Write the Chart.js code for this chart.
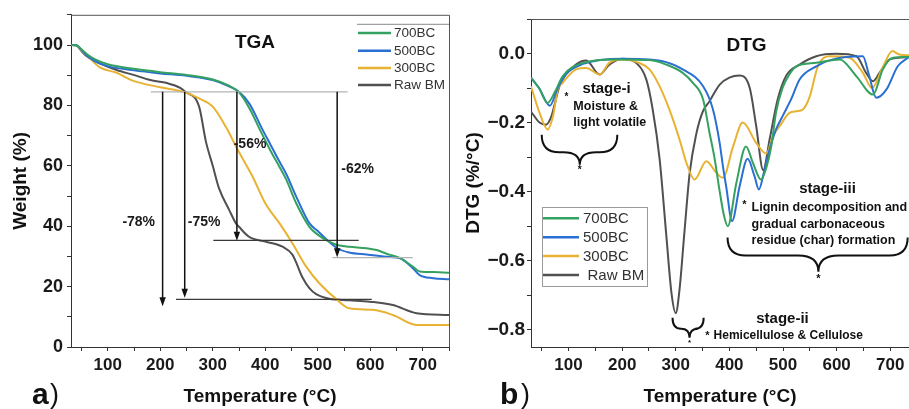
<!DOCTYPE html>
<html><head><meta charset="utf-8">
<script src="https://cdn.jsdelivr.net/npm/chart.js@4.4.1/dist/chart.umd.min.js"></script>
<style>
html,body{margin:0;padding:0;background:#fff;}
#wrap{position:relative;width:909px;height:409px;overflow:hidden;background:#fff;}
#c1{position:absolute;left:0;top:0;}
#c2{position:absolute;left:455px;top:0;}
</style></head><body>
<div id="wrap">
<canvas id="c1" width="455" height="409"></canvas>
<canvas id="c2" width="454" height="409"></canvas>
</div>
<script>
// ---------------- DATA ----------------
const seriesNames = ['700BC', '500BC', '300BC', 'Raw BM'];

// TGA (weight %) vs temperature (°C)
const tgaT700 = [30, 40, 50, 60, 75, 100, 150, 200, 250, 300, 330, 350, 370, 390, 410, 427, 440, 459, 484, 500, 518, 537, 560, 593, 612, 631, 657, 681, 694, 720, 750];
const tgaW700 = [100, 99.9, 98.6, 97.0, 95.3, 93.6, 92.1, 91.0, 90.1, 88.6, 86.6, 84.3, 79.0, 71.9, 65.0, 59.7, 55.4, 47.6, 39.8, 37.2, 35.2, 33.8, 33.2, 32.7, 32.1, 30.9, 29.4, 26.6, 25.0, 24.8, 24.6];
const tgaT500 = [30, 40, 50, 60, 75, 100, 150, 200, 250, 300, 330, 350, 370, 395, 410, 427, 440, 459, 484, 500, 518, 537, 560, 593, 631, 657, 681, 694, 720, 750];
const tgaW500 = [100, 99.9, 98.3, 96.5, 94.7, 93.0, 91.6, 90.6, 89.8, 88.4, 86.4, 84.5, 80.5, 71.9, 67.0, 61.4, 57.3, 49.8, 41.0, 38.4, 35.4, 32.7, 31.3, 30.6, 29.9, 29.4, 26.1, 23.8, 22.8, 22.4];
const tgaT300 = [30, 40, 50, 60, 85, 117, 146, 200, 247, 274, 300, 325, 346, 376, 400, 427, 452, 478, 503, 537, 560, 605, 643, 688, 750];
const tgaW300 = [100, 99.9, 98.2, 96.6, 92.6, 90.8, 88.3, 86.0, 84.3, 82.3, 79.6, 72.9, 65.8, 56.4, 47.6, 41.0, 34.3, 26.6, 21.1, 15.6, 12.8, 12.3, 10.6, 7.3, 7.3];
const tgaTRaw = [30, 40, 50, 60, 85, 117, 149, 181, 213, 238, 247, 274, 287, 300, 312, 331, 344, 350, 369, 400, 433, 452, 460, 471, 484, 497, 522, 560, 599, 643, 688, 750];
const tgaWRaw = [100, 99.9, 98.0, 96.3, 93.9, 91.7, 90.1, 88.4, 87.4, 85.8, 84.6, 79.6, 68.0, 60.0, 52.5, 45.5, 41.0, 39.8, 36.5, 34.9, 33.2, 30.5, 27.5, 23.0, 19.5, 17.5, 16.0, 15.5, 15.0, 13.9, 11.2, 10.6];

// DTG (%/°C) vs temperature (°C)
const dtgT700 = [30, 45, 61, 75, 89, 127, 189, 251, 282, 313, 332, 351, 363, 372, 382, 390, 397, 413, 431, 444, 459, 469, 478, 487, 499, 512, 525, 562, 606, 637, 668, 686, 705, 735];
const dtgV700 = [-0.07, -0.10, -0.143, -0.11, -0.066, -0.027, -0.017, -0.019, -0.032, -0.056, -0.085, -0.133, -0.23, -0.30, -0.40, -0.47, -0.50, -0.375, -0.269, -0.317, -0.365, -0.33, -0.27, -0.17, -0.10, -0.06, -0.037, -0.027, -0.017, -0.066, -0.119, -0.046, -0.012, -0.01];
const dtgT500 = [30, 45, 65, 80, 95, 127, 200, 251, 282, 313, 351, 369, 382, 388, 394, 405, 419, 434, 447, 455, 465, 475, 487, 499, 515, 531, 562, 593, 649, 660, 674, 693, 714, 735];
const dtgV500 = [-0.07, -0.10, -0.151, -0.10, -0.06, -0.03, -0.015, -0.017, -0.025, -0.046, -0.095, -0.160, -0.26, -0.327, -0.385, -0.485, -0.385, -0.305, -0.356, -0.394, -0.34, -0.278, -0.22, -0.182, -0.133, -0.075, -0.037, -0.017, -0.008, -0.06, -0.128, -0.104, -0.037, -0.01];
const dtgT300 = [30, 46, 61, 71, 80, 89, 114, 133, 158, 176, 201, 232, 251, 270, 288, 307, 320, 335, 357, 376, 388, 407, 425, 450, 469, 481, 494, 512, 525, 537, 550, 565, 587, 624, 649, 666, 686, 704, 717, 735];
const dtgV300 = [-0.095, -0.172, -0.22, -0.182, -0.104, -0.085, -0.046, -0.042, -0.061, -0.027, -0.017, -0.027, -0.046, -0.095, -0.162, -0.249, -0.317, -0.365, -0.312, -0.346, -0.36, -0.269, -0.2, -0.259, -0.29, -0.24, -0.21, -0.172, -0.167, -0.162, -0.124, -0.037, -0.008, -0.012, -0.056, -0.10, -0.04, 0.007, -0.003, -0.005];
const dtgTRaw = [30, 46, 58, 68, 74, 83, 114, 133, 158, 176, 201, 226, 245, 257, 270, 282, 292, 300, 307, 316, 326, 338, 350, 363, 382, 400, 419, 438, 450, 463, 475, 490, 506, 531, 562, 599, 637, 655, 668, 680, 699, 735];
const dtgVRaw = [-0.168, -0.20, -0.206, -0.182, -0.148, -0.095, -0.032, -0.02, -0.061, -0.032, -0.015, -0.027, -0.075, -0.162, -0.307, -0.52, -0.694, -0.752, -0.684, -0.52, -0.346, -0.235, -0.17, -0.138, -0.09, -0.07, -0.064, -0.10, -0.21, -0.338, -0.249, -0.133, -0.064, -0.032, -0.008, -0.001, -0.008, -0.056, -0.08, -0.056, -0.017, -0.01];

// TGA axis ticks
const tgaXTickLabels = [100, 200, 300, 400, 500, 600, 700];
const tgaYTickLabels = [0, 20, 40, 60, 80, 100];
const dtgXTickLabels = [100, 200, 300, 400, 500, 600, 700];
const dtgYTickLabels = [-0.8, -0.6, -0.4, -0.2, 0.0];

// TGA annotations (data units): mass-loss reference lines, arrows, labels
const tgaRefW  = [84.5, 35.3, 29.6, 15.8];
const tgaRefT1 = [182, 301, 528, 230];
const tgaRefT2 = [557, 578, 681, 603];
const tgaArrowT  = [204.5, 246.6, 346, 537];
const tgaArrowW1 = [84.5, 84.5, 84.5, 84.5];
const tgaArrowW2 = [13.5, 16.3, 35.2, 29.7];
const tgaLossLabels = ['-78%', '-75%', '-56%', '-62%'];
const tgaLossT = [159, 283.5, 371, 576];
const tgaLossW = [41.5, 41.5, 67.2, 58.8];

// ---------------- STYLE ----------------
const FONT = "'Liberation Sans', Arial, Helvetica, sans-serif";
const colors = ['#35a160', '#2a6fd2', '#e8b232', '#505050'];
const refColors = ['#b3b3b3', '#3a3a3a', '#b3b3b3', '#3a3a3a'];

function pts(T, V) { return T.map((t, i) => ({x: t, y: V[i]})); }

function makeDatasets(list) {
  return list.map((d, i) => ({
    label: seriesNames[i],
    data: pts(d[0], d[1]),
    borderColor: colors[i],
    backgroundColor: colors[i],
    borderWidth: 2,
    pointRadius: 0,
    fill: false,
    cubicInterpolationMode: 'monotone',
    order: i
  }));
}

function axisCommon() {
  return {
    grid: {display: true, drawOnChartArea: false, drawTicks: true, tickLength: 4, tickColor: '#333', tickWidth: 1},
    border: {display: true, color: '#333', width: 1}
  };
}

function text(ctx, s, x, y, font, align, color, baseline) {
  ctx.save();
  ctx.font = font;
  ctx.textAlign = align || 'center';
  ctx.textBaseline = baseline || 'middle';
  ctx.fillStyle = color || '#111';
  ctx.fillText(s, x, y);
  ctx.restore();
}

function brace(ctx, x1, x2, xc, yTop, yMid, yCusp) {
  const r1 = Math.min(yMid - yTop, (xc - x1) / 2);
  const r2 = Math.min(yCusp - yMid + 4, (xc - x1) / 2);
  ctx.save();
  ctx.strokeStyle = '#111';
  ctx.lineWidth = 2;
  ctx.beginPath();
  ctx.moveTo(x1, yTop);
  ctx.quadraticCurveTo(x1, yMid, x1 + r1, yMid);
  ctx.lineTo(xc - r2, yMid);
  ctx.quadraticCurveTo(xc, yMid, xc, yCusp);
  ctx.quadraticCurveTo(xc, yMid, xc + r2, yMid);
  ctx.lineTo(x2 - r1, yMid);
  ctx.quadraticCurveTo(x2, yMid, x2, yTop);
  ctx.stroke();
  ctx.restore();
}

// ---------------- TGA PLUGIN ----------------
const tgaPlugin = {
  id: 'tgaDecor',
  afterDatasetsDraw(chart) {
    const {ctx, chartArea: a, scales: {x, y}} = chart;
    // frame top & right
    ctx.save();
    ctx.strokeStyle = '#555';
    ctx.lineWidth = 1;
    ctx.beginPath();
    ctx.moveTo(a.left, a.top + 0.5); ctx.lineTo(a.right + 0.5, a.top + 0.5); ctx.lineTo(a.right + 0.5, a.bottom);
    ctx.stroke();
    // reference lines
    tgaRefW.forEach((w, i) => {
      ctx.strokeStyle = refColors[i];
      ctx.lineWidth = 1.3;
      ctx.beginPath();
      const py = y.getPixelForValue(w);
      ctx.moveTo(x.getPixelForValue(tgaRefT1[i]), py);
      ctx.lineTo(x.getPixelForValue(tgaRefT2[i]), py);
      ctx.stroke();
    });
    // arrows
    tgaArrowT.forEach((t, i) => {
      const px = x.getPixelForValue(t);
      const y1 = y.getPixelForValue(tgaArrowW1[i]);
      const y2 = y.getPixelForValue(tgaArrowW2[i]);
      ctx.strokeStyle = '#111';
      ctx.fillStyle = '#111';
      ctx.lineWidth = 1.5;
      ctx.beginPath();
      ctx.moveTo(px, y1); ctx.lineTo(px, y2 - 6); ctx.stroke();
      ctx.beginPath();
      ctx.moveTo(px, y2); ctx.lineTo(px - 3.2, y2 - 9); ctx.lineTo(px + 3.2, y2 - 9); ctx.closePath(); ctx.fill();
    });
    ctx.restore();
    // loss labels
    tgaLossLabels.forEach((s, i) => {
      text(ctx, s, x.getPixelForValue(tgaLossT[i]), y.getPixelForValue(tgaLossW[i]), 'bold 14px ' + FONT, 'center', '#1a1a1a');
    });
    // title
    text(ctx, 'TGA', a.left + 184, a.top + 28, 'bold 19px ' + FONT, 'center', '#111');
    // legend
    ctx.save();
    ctx.strokeStyle = '#8a8a8a';
    ctx.lineWidth = 1;
    ctx.beginPath();
    ctx.moveTo(a.right - 92, a.top + 9.5); ctx.lineTo(a.right, a.top + 9.5); ctx.stroke();
    const ly = [18.3, 36, 53.3, 70.3];
    chart.data.datasets.forEach((ds, i) => {
      ctx.strokeStyle = ds.borderColor;
      ctx.lineWidth = 2.5;
      ctx.beginPath();
      ctx.moveTo(a.right - 91, a.top + ly[i]); ctx.lineTo(a.right - 58, a.top + ly[i]); ctx.stroke();
      text(ctx, ds.label, a.right - 55, a.top + ly[i] + 0.5, '13.5px ' + FONT, 'left', '#333');
    });
    ctx.restore();
    // panel label
    text(ctx, 'a', 32, 404, 'bold 30px ' + FONT, 'left', '#111', 'alphabetic');
    text(ctx, ')', 50, 403, '27px ' + FONT, 'left', '#111', 'alphabetic');
  }
};

// ---------------- DTG PLUGIN ----------------
const dtgTextItems = [
  {s: 'DTG', t: 432, v: 0.023, font: 'bold 19px ', align: 'center'},
  {s: 'stage-i', t: 171, v: -0.101, font: 'bold 15px ', align: 'center'},
  {s: '*', t: 96, v: -0.128, font: 'bold 10px ', align: 'center'},
  {s: 'Moisture &', t: 109, v: -0.153, font: 'bold 12.5px ', align: 'left'},
  {s: 'light volatile', t: 109, v: -0.200, font: 'bold 12.5px ', align: 'left'},
  {s: '*', t: 121, v: -0.338, font: 'bold 10px ', align: 'center'},
  {s: 'stage-iii', t: 583, v: -0.391, font: 'bold 15px ', align: 'center'},
  {s: '*', t: 428, v: -0.440, font: 'bold 11px ', align: 'center'},
  {s: 'Lignin decomposition and', t: 441.4, v: -0.446, font: 'bold 12.5px ', align: 'left'},
  {s: 'gradual carbonaceous', t: 441.4, v: -0.494, font: 'bold 12.5px ', align: 'left'},
  {s: 'residue (char) formation', t: 441.4, v: -0.541, font: 'bold 12.5px ', align: 'left'},
  {s: '*', t: 566, v: -0.652, font: 'bold 11px ', align: 'center'},
  {s: 'stage-ii', t: 499, v: -0.768, font: 'bold 15px ', align: 'center'},
  {s: '*', t: 359, v: -0.818, font: 'bold 11px ', align: 'center'},
  {s: 'Hemicellulose & Cellulose', t: 370.5, v: -0.817, font: 'bold 12px ', align: 'left'},
  {s: '*', t: 325.7, v: -0.838, font: 'bold 8px ', align: 'center'}
];
const dtgBraces = [
  {t1: 50, t2: 191, tc: 121, vTop: -0.235, vMid: -0.286, vCusp: -0.322},
  {t1: 396.6, t2: 732.5, tc: 566, vTop: -0.533, vMid: -0.585, vCusp: -0.632},
  {t1: 294, t2: 352, tc: 325.7, vTop: -0.765, vMid: -0.797, vCusp: -0.823}
];

const dtgPlugin = {
  id: 'dtgDecor',
  afterDatasetsDraw(chart) {
    const {ctx, chartArea: a, scales: {x, y}} = chart;
    ctx.save();
    ctx.strokeStyle = '#555';
    ctx.lineWidth = 1;
    ctx.beginPath();
    ctx.moveTo(a.left, a.top + 0.5); ctx.lineTo(a.right, a.top + 0.5);
    ctx.stroke();
    ctx.restore();
    dtgTextItems.forEach(it => {
      text(ctx, it.s, x.getPixelForValue(it.t), y.getPixelForValue(it.v), it.font + FONT, it.align, '#111');
    });
    dtgBraces.forEach(b => {
      brace(ctx, x.getPixelForValue(b.t1), x.getPixelForValue(b.t2), x.getPixelForValue(b.tc),
        y.getPixelForValue(b.vTop), y.getPixelForValue(b.vMid), y.getPixelForValue(b.vCusp));
    });
    // legend box
    ctx.save();
    const bx = a.left + 11, by = 207, bw = 105, bh = 79;
    ctx.strokeStyle = '#9a9a9a';
    ctx.lineWidth = 1;
    ctx.strokeRect(bx + 0.5, by + 0.5, bw, bh);
    const ly = [218.3, 237.3, 256, 275];
    chart.data.datasets.forEach((ds, i) => {
      ctx.strokeStyle = ds.borderColor;
      ctx.lineWidth = 2.5;
      ctx.beginPath();
      ctx.moveTo(bx + 1, ly[i]); ctx.lineTo(bx + 37, ly[i]); ctx.stroke();
      text(ctx, ds.label, bx + (i === 3 ? 45.5 : 41), ly[i] + 0.5, '15px ' + FONT, 'left', '#333');
    });
    ctx.restore();
    text(ctx, 'b', 45, 404, 'bold 30px ' + FONT, 'left', '#111', 'alphabetic');
    text(ctx, ')', 66, 403, '27px ' + FONT, 'left', '#111', 'alphabetic');
  }
};

// ---------------- CHARTS ----------------
Chart.defaults.font.family = FONT;
Chart.defaults.color = '#1a1a1a';

new Chart(document.getElementById('c1'), {
  type: 'line',
  data: {datasets: makeDatasets([[tgaT700, tgaW700], [tgaT500, tgaW500], [tgaT300, tgaW300], [tgaTRaw, tgaWRaw]])},
  options: {
    responsive: false, animation: false, devicePixelRatio: 1,
    layout: {padding: {top: 14, right: 6, bottom: 0, left: 0}},
    plugins: {legend: {display: false}, tooltip: {enabled: false}},
    scales: {
      x: Object.assign(axisCommon(), {
        type: 'linear', min: 30, max: 750,
        ticks: {stepSize: 50, includeBounds: false, autoSkip: false, maxRotation: 0, padding: 4,
          font: {size: 17, weight: 'bold'}, color: '#1a1a1a',
          callback: v => tgaXTickLabels.includes(v) ? String(v) : ''},
        title: {display: true, text: 'Temperature (°C)', font: {size: 19, weight: 'bold'}, color: '#111', padding: {top: 0, bottom: 1}},
        afterFit: s => { s.height = 62; }
      }),
      y: Object.assign(axisCommon(), {
        type: 'linear', min: 0, max: 110,
        ticks: {stepSize: 10, includeBounds: false, autoSkip: false, padding: 4,
          font: {size: 18, weight: 'bold'}, color: '#1a1a1a',
          callback: v => tgaYTickLabels.includes(v) ? String(v) : ''},
        title: {display: true, text: 'Weight (%)', font: {size: 19, weight: 'bold'}, color: '#111', padding: {top: 9, bottom: 0}},
        afterFit: s => { s.width = 71; }
      })
    }
  },
  plugins: [tgaPlugin]
});

new Chart(document.getElementById('c2'), {
  type: 'line',
  data: {datasets: makeDatasets([[dtgT700, dtgV700], [dtgT500, dtgV500], [dtgT300, dtgV300], [dtgTRaw, dtgVRaw]])},
  options: {
    responsive: false, animation: false, devicePixelRatio: 1,
    layout: {padding: {top: 19, right: 0, bottom: 0, left: 0}},
    plugins: {legend: {display: false}, tooltip: {enabled: false}},
    scales: {
      x: Object.assign(axisCommon(), {
        type: 'linear', min: 30, max: 735,
        ticks: {stepSize: 50, includeBounds: false, autoSkip: false, maxRotation: 0, padding: 4,
          font: {size: 17, weight: 'bold'}, color: '#1a1a1a',
          callback: v => dtgXTickLabels.includes(v) ? String(v) : ''},
        title: {display: true, text: 'Temperature (°C)', font: {size: 19, weight: 'bold'}, color: '#111', padding: {top: 0, bottom: 1}},
        afterFit: s => { s.height = 62; }
      }),
      y: Object.assign(axisCommon(), {
        type: 'linear', min: -0.85, max: 0.1,
        ticks: {stepSize: 0.1, includeBounds: false, autoSkip: false, padding: 2,
          font: {size: 19, weight: 'bold'}, color: '#1a1a1a',
          callback: v => {
            const k = Math.round(v * 10);
            const hit = dtgYTickLabels.some(l => Math.round(l * 10) === k);
            if (!hit) return '';
            return (k < 0 ? '\u2212' : '') + Math.abs(k / 10).toFixed(1);
          }},
        title: {display: true, text: 'DTG (%/°C)', font: {size: 19, weight: 'bold'}, color: '#111', padding: {top: 7, bottom: 0}},
        afterFit: s => { s.width = 76; }
      })
    }
  },
  plugins: [dtgPlugin]
});
</script>
</body></html>
